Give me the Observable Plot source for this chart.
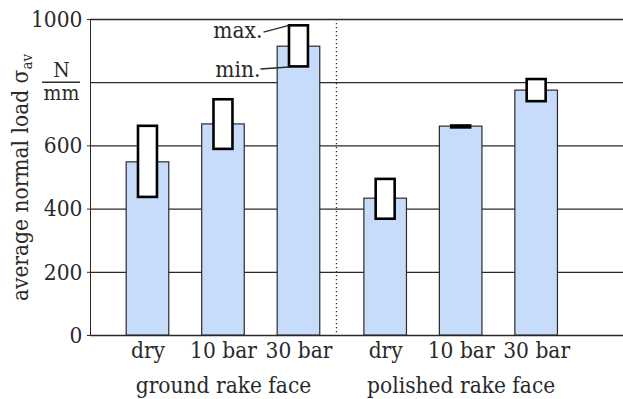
<!DOCTYPE html>
<html><head><meta charset="utf-8">
<script src="https://cdn.jsdelivr.net/npm/d3@7"></script>
<script src="https://cdn.jsdelivr.net/npm/@observablehq/plot@0.6"></script>
<style>html,body{margin:0;padding:0;background:#fff;overflow:hidden}</style>
</head><body><div id="chart"></div>
<script>
const groups = ["ground rake face", "polished rake face"];
const conditions = ["dry", "10 bar", "30 bar"];
const averageLoad = [548, 668, 914, 433, 661, 775];
const minLoad = [437, 589, 850, 368, 657, 740];
const maxLoad = [662, 746, 980, 494, 663, 810];
const yTicks = [0, 200, 400, 600, 1000];
const gridValues = [0, 200, 400, 600, 800, 1000];
const unitValue = 800;
const unitLabel = ["N", "mm"];
const yLabel = "average normal load σ";
const ySub = "av";
const annotations = ["max.", "min."];

const FONT = "DejaVu Serif Condensed";
const FS = 22.5;
const INK = "#2a2a2a";
const BAR = "#c7dcfa";
const shift = [-5.6, 5.6];
const key = (g, c) => g + "|" + c;

const rows = [];
groups.forEach((g, gi) => conditions.forEach((c, ci) => {
  const i = gi * conditions.length + ci;
  rows.push({g, gi, c, key: key(g, c), avg: averageLoad[i], min: minLoad[i], max: maxLoad[i]});
}));
const keys = rows.map(d => d.key);
const midRows = groups.map((g, gi) => ({g, gi, key: key(g, conditions[1])}));

const perGroup = (mk) => groups.map((g, gi) => mk(gi));

const annotKey = key(groups[0], conditions[2]);
const annotData = [
  {label: annotations[0], v: maxLoad[2]},
  {label: annotations[1], v: minLoad[2]}
];

const chart = Plot.plot({
  width: 623,
  height: 399,
  marginTop: 19,
  marginBottom: 64,
  marginLeft: 90,
  marginRight: 0,
  style: `font-family: '${FONT}', 'DejaVu Serif', serif; font-size: ${FS}px; background: white; color: ${INK}; overflow: visible;`,
  x: {type: "band", domain: keys, paddingInner: 0.436, paddingOuter: 0.748, align: 0.37, round: false, axis: null},
  y: {domain: [0, 1000], ticks: yTicks, tickFormat: d => String(d), tickSize: 3, tickPadding: 5, label: null, line: true},
  marks: [
    Plot.ruleY(gridValues, {stroke: INK, strokeWidth: 1.3}),
    Plot.ruleX([key(groups[0], conditions[2])], {dx: 31.9, stroke: INK, strokeWidth: 1.3, strokeDasharray: "1.3,2.7"}),
    ...perGroup(gi => Plot.barY(rows, {filter: d => d.gi === gi, x: "key", y: "avg", dx: shift[gi], fill: BAR, stroke: INK, strokeWidth: 1.2})),
    ...perGroup(gi => Plot.barY(rows, {filter: d => d.gi === gi, x: "key", y1: "min", y2: "max", dx: shift[gi], insetLeft: 11.8, insetRight: 11.8, fill: "white", stroke: "#000", strokeWidth: 2.6})),
    ...perGroup(gi => Plot.text(rows, {filter: d => d.gi === gi, x: "key", text: "c", frameAnchor: "bottom", lineAnchor: "top", dy: 7, dx: shift[gi], fontSize: FS, fill: INK})),
    ...perGroup(gi => Plot.text(midRows, {filter: d => d.gi === gi, x: "key", text: "g", frameAnchor: "bottom", lineAnchor: "top", dy: 42, dx: shift[gi], fontSize: FS, fill: INK})),
    Plot.text(annotData.slice(0, 1), {x: () => annotKey, y: "v", text: "label", textAnchor: "end", dx: shift[0] - 9.5 - 27, dy: 5, fontSize: FS, fill: INK}),
    Plot.text(annotData.slice(1), {x: () => annotKey, y: "v", text: "label", textAnchor: "end", dx: shift[0] - 9.5 - 29, dy: 2.4, fontSize: FS, fill: INK}),
    Plot.text([unitLabel[0]], {y: () => unitValue, frameAnchor: "left", dx: -29, dy: -12, textAnchor: "middle", fontSize: 21, fill: INK}),
    Plot.text([unitLabel[1]], {y: () => unitValue, frameAnchor: "left", dx: -29, dy: 10.6, textAnchor: "middle", fontSize: 21, fill: INK}),
    Plot.text([yLabel], {frameAnchor: "left", rotate: -90, dx: -63, lineAnchor: "bottom", textAnchor: "middle", fontSize: FS, fill: INK}),
    (index, scales, values, dims) => {
      const x = scales.x, y = scales.y;
      const bw = x.bandwidth ? x.bandwidth() : 0;
      const left = x(annotKey) + bw / 2 + shift[0] - 9.5;
      const g = d3.create("svg:g").attr("stroke", INK).attr("stroke-width", 1.3).attr("fill", "none");
      g.append("line").attr("x1", left - 25.5).attr("y1", y(maxLoad[2]) + 6.7).attr("x2", left).attr("y2", y(maxLoad[2]));
      g.append("line").attr("x1", left - 28.5).attr("y1", y(minLoad[2]) + 2.6).attr("x2", left).attr("y2", y(minLoad[2]) + 0.6);
      const ml = dims.marginLeft;
      g.append("line").attr("x1", ml - 48).attr("x2", ml - 10).attr("y1", y(unitValue)).attr("y2", y(unitValue)).attr("stroke-width", 1.6);
      return g.node();
    }
  ]
});

d3.select(chart).selectAll("text").filter(function () { return this.textContent === yLabel; })
  .append("tspan").attr("font-size", 15).attr("dy", "0.3em").text(ySub);

document.getElementById("chart").appendChild(chart);
</script>
</body></html>
